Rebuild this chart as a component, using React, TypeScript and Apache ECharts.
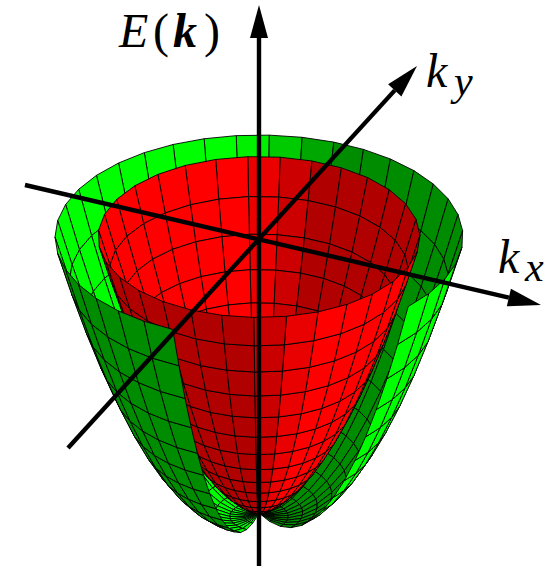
import React, { useEffect, useRef } from "react";
import * as echarts from "echarts";

// Surface meshes: ring radius (k), ring height (E) and meridian azimuths (degrees)
const redRingK = [0, 11.5, 23, 34.5, 46, 57.5, 69, 80.5, 92, 103.5, 115, 126.5, 138, 149.5, 161];
const redRingE = [0, 5.27, 12.76, 22.47, 34.4, 48.56, 64.94, 83.54, 104.37, 127.42, 152.69, 180.18, 209.9, 241.84, 276];
const greenRingK = [0, 14.57, 29.14, 43.71, 58.29, 72.86, 87.43, 102, 116.57, 131.14, 145.71, 160.29, 174.86, 189.43, 204];
const greenRingE = [0, -3.48, -3.39, 0.26, 7.49, 18.28, 32.64, 50.57, 72.07, 97.13, 125.76, 157.98, 193.75, 233.09, 276];
const redAzimuth = [115, 126.6, 138.2, 149.8, 161.5, 173.1, 184.7, 196.3, 207.9, 219.5, 231.1, 242.7, 254.4, 266, 277.6, 289.2, 300.8, 312.4, 324, 335.6, 347.3, 358.9, 370.5, 382.1, 393.7, 405.3, 416.9, 428.5, 440.2, 451.8, 463.4, 475];
const greenAzimuth = [115, 124.3, 133.6, 142.9, 152.2, 161.5, 170.7, 180, 189.3, 198.6, 207.9, 217.2, 226.5, 235.8, 245.1, 254.4, 263.6, 272.9, 282.2, 291.5, 300.8, 310.1, 319.4, 328.7, 338, 347.3, 356.5, 365.8, 375.1, 384.4, 393.7, 403];

// Axes: [start, tip] in chart units
const axisVertical = [[0, -326], [0, 235]];
const axisKx = [[-234, 55], [282, -65]];
const axisKy = [[-191, -208], [158, 174]];

const bottomY = -273;
const squash = 0.5;
const lightBias = 0.156;

type Quad = { pts: number[][]; fill: string };

function project(k: number, e: number, deg: number) {
  const a = (deg * Math.PI) / 180;
  return [k * Math.cos(a), bottomY + e - squash * k * Math.sin(a)];
}

function buildQuads(ks: number[], es: number[], az: number[], isRed: boolean) {
  const inside: (Quad & { d: number })[] = [];
  const outside: (Quad & { d: number })[] = [];
  for (let i = 0; i < ks.length - 1; i++) {
    for (let j = 0; j < az.length - 1; j++) {
      const pts = [
        project(ks[i], es[i], az[j]),
        project(ks[i + 1], es[i + 1], az[j]),
        project(ks[i + 1], es[i + 1], az[j + 1]),
        project(ks[i], es[i], az[j + 1]),
      ];
      let area = 0;
      for (let n = 0; n < 4; n++) {
        const p = pts[n];
        const q = pts[(n + 1) % 4];
        area += p[0] * q[1] - q[0] * p[1];
      }
      const mid = (((az[j] + az[j + 1]) / 2) * Math.PI) / 180;
      const c = Math.cos(mid) - lightBias;
      const isInside = area < 0;
      const dot = isInside ? -c : c;
      const t = Math.max(0, Math.min(1, 0.5 + dot / 0.5));
      const fill = isRed
        ? `rgb(${Math.round(176 + 79 * t)},0,0)`
        : `rgb(0,${Math.round(140 + 115 * t)},0)`;
      const d = Math.sin(mid) * (ks[i] + ks[i + 1]);
      (isInside ? inside : outside).push({ pts, fill, d });
    }
  }
  inside.sort((a, b) => a.d - b.d);
  outside.sort((a, b) => a.d - b.d);
  return { inside, outside };
}

const labelStyle = (text: string, font: string) => ({ text, fill: "#000", font });

export default function App() {
  const ref = useRef<HTMLDivElement>(null);
  useEffect(() => {
    const chart = echarts.init(ref.current!, undefined, { renderer: "svg" });
    const red = buildQuads(redRingK, redRingE, redAzimuth, true);
    const green = buildQuads(greenRingK, greenRingE, greenAzimuth, false);
    const quads: Quad[] = [...green.inside, ...red.inside, ...red.outside, ...green.outside];
    const axes = [axisVertical, axisKx, axisKy];
    chart.setOption({
      animation: false,
      backgroundColor: "#fff",
      grid: { left: 0, right: 0, top: 0, bottom: 0 },
      xAxis: { type: "value", min: -259, max: 292, show: false },
      yAxis: { type: "value", min: -328, max: 240, show: false },
      series: [
        {
          type: "custom",
          silent: true,
          clip: false,
          progressive: 0,
          data: quads.map((_, i) => [i]),
          renderItem: (params: any, api: any) => {
            const q = quads[api.value(0)];
            return {
              type: "polygon",
              shape: { points: q.pts.map((p) => api.coord(p)) },
              style: { fill: q.fill, stroke: "#000", lineWidth: 0.9, lineJoin: "round" },
            };
          },
        },
        {
          type: "custom",
          silent: true,
          clip: false,
          data: axes.map((_, i) => [i]),
          renderItem: (params: any, api: any) => {
            const [s, t] = axes[api.value(0)];
            const a = api.coord(s);
            const b = api.coord(t);
            const dx = b[0] - a[0];
            const dy = b[1] - a[1];
            const len = Math.hypot(dx, dy);
            const ux = dx / len;
            const uy = dy / len;
            const head = 33;
            const half = 9;
            const bx = b[0] - ux * head;
            const by = b[1] - uy * head;
            return {
              type: "group",
              children: [
                {
                  type: "line",
                  shape: { x1: a[0], y1: a[1], x2: bx, y2: by },
                  style: { stroke: "#000", lineWidth: 4.4 },
                },
                {
                  type: "polygon",
                  shape: { points: [b, [bx - uy * half, by + ux * half], [bx + uy * half, by - ux * half]] },
                  style: { fill: "#000" },
                },
              ],
            };
          },
        },
      ],
      graphic: [
        { type: "text", x: 119, y: 6, style: labelStyle("E", 'italic 48px "Liberation Serif"') },
        { type: "text", x: 153, y: 6, style: labelStyle("(", '48px "Liberation Serif"') },
        { type: "text", x: 173, y: 6, style: labelStyle("k", 'italic bold 48px "Liberation Serif"') },
        { type: "text", x: 204, y: 6, style: labelStyle(")", '48px "Liberation Serif"') },
        { type: "text", x: 426, y: 46, style: labelStyle("k", 'italic 48px "Liberation Serif"') },
        { type: "text", x: 454, y: 60, style: labelStyle("y", 'italic 42px "Liberation Serif"') },
        { type: "text", x: 498, y: 232, style: labelStyle("k", 'italic 48px "Liberation Serif"') },
        { type: "text", x: 525, y: 246, style: labelStyle("x", 'italic 42px "Liberation Serif"') },
      ],
    });
    return () => chart.dispose();
  }, []);
  return (
    <div
      ref={ref}
      style={{ position: "absolute", left: 0, top: 0, width: 551, height: 568 }}
    />
  );
}
